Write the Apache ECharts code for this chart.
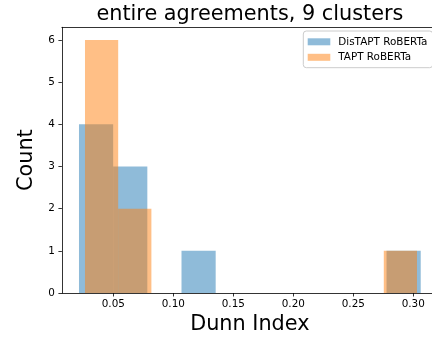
<!DOCTYPE html>
<html>
<head>
<meta charset="utf-8">
<script src="https://cdn.jsdelivr.net/npm/echarts@6/dist/echarts.min.js"></script>
<style>
  html, body { margin: 0; padding: 0; background: #fff; }
  #chart { width: 432px; height: 338px; }
</style>
</head>
<body>
<div id="chart"></div>
<script>
// Histogram of Dunn index values for two models (10 equal-width bins each).
const seriesNames = ['DisTAPT RoBERTa', 'TAPT RoBERTa'];
const distaptRange = [0.0214, 0.3062];
const distaptCounts = [4, 3, 0, 1, 0, 0, 0, 0, 0, 1];
const taptRange = [0.0264, 0.3031];
const taptCounts = [6, 2, 0, 0, 0, 0, 0, 0, 0, 1];
const xTicks = [0.05, 0.10, 0.15, 0.20, 0.25, 0.30];
const yTicks = [0, 1, 2, 3, 4, 5, 6];
const titleText = 'entire agreements, 9 clusters';
const xLabel = 'Dunn Index';
const yLabel = 'Count';

const FONT = 'DejaVu Sans';
const colors = ['rgba(31,119,180,0.5)', 'rgba(255,127,14,0.5)'];

// Equal-width bins between the min and max of each sample: [left, right, count]
function binsOf(range, counts) {
  const w = (range[1] - range[0]) / counts.length;
  return counts
    .map((c, i) => [range[0] + i * w, range[0] + (i + 1) * w, c])
    .filter(b => b[2] > 0);
}

// x limits: data span plus 5% margin on each side
const lo = Math.min(distaptRange[0], taptRange[0]);
const hi = Math.max(distaptRange[1], taptRange[1]);
const pad = 0.05 * (hi - lo);
const yMax = Math.max(...distaptCounts, ...taptCounts) * 1.05;

function renderBin(color) {
  return function (params, api) {
    const p0 = api.coord([api.value(0), api.value(2)]);
    const p1 = api.coord([api.value(1), 0]);
    return {
      type: 'rect',
      shape: { x: p0[0], y: p0[1], width: p1[0] - p0[0], height: p1[1] - p0[1] },
      style: { fill: color }
    };
  };
}

const spine = { show: true, lineStyle: { color: '#000', width: 0.8 } };

const chart = echarts.init(document.getElementById('chart'), null, { renderer: 'canvas' });
chart.setOption({
  animation: false,
  backgroundColor: '#fff',
  textStyle: { fontFamily: FONT },
  grid: {
    left: 61.9, top: 27.3, width: 375.9, height: 265.7,
    outerBoundsMode: 'none', containLabel: false, show: false
  },
  graphic: [{
    type: 'text', x: 249.9, y: 14.5,
    style: { text: titleText, font: '20.8px "DejaVu Sans"', fill: '#000', align: 'center', verticalAlign: 'middle' }
  }, {
    // legend frame, anchored to the upper-right corner of the axes
    type: 'rect', z: 1,
    shape: { x: 303.3, y: 31, width: 129.4, height: 36.7, r: 3 },
    style: { fill: 'rgba(255,255,255,0.8)', stroke: '#cccccc', lineWidth: 1 }
  }],
  legend: {
    orient: 'vertical', left: 303.3, top: 31, z: 5,
    icon: 'rect', itemWidth: 22.6, itemHeight: 7, itemGap: 3.5,
    padding: [4.8, 2, 4.4, 4.4],
    textStyle: { fontFamily: FONT, fontSize: 10.4, lineHeight: 12, color: '#000', padding: [0, 0, 0, 3] },
    data: seriesNames.map((n, i) => ({ name: n, itemStyle: { color: colors[i] } }))
  },
  xAxis: [{
    type: 'value', min: lo - pad, max: hi + pad, position: 'bottom',
    name: xLabel, nameLocation: 'middle', nameGap: 31.5,
    nameTextStyle: { fontFamily: FONT, fontSize: 20.8, color: '#000', verticalAlign: 'middle' },
    axisLine: spine,
    axisTick: { show: true, length: 3.5, lineStyle: { color: '#000', width: 0.8 }, customValues: xTicks },
    axisLabel: {
      customValues: xTicks, margin: 6.5, fontFamily: FONT, fontSize: 10.4, color: '#000',
      formatter: v => v.toFixed(2)
    },
    splitLine: { show: false }
  }, {
    // top spine of the frame
    type: 'value', min: lo - pad, max: hi + pad, position: 'top',
    axisLine: spine, axisTick: { show: false }, axisLabel: { show: false }, splitLine: { show: false }
  }],
  yAxis: {
    type: 'value', min: 0, max: yMax,
    name: yLabel, nameLocation: 'middle', nameGap: 30, nameRotate: 90,
    nameTextStyle: { fontFamily: FONT, fontSize: 20.8, color: '#000', verticalAlign: 'middle' },
    axisLine: spine,
    axisTick: { show: true, length: 3.5, lineStyle: { color: '#000', width: 0.8 }, customValues: yTicks },
    axisLabel: { customValues: yTicks, margin: 7, fontFamily: FONT, fontSize: 10.4, color: '#000' },
    splitLine: { show: false }
  },
  series: [
    {
      name: seriesNames[0], type: 'custom', color: colors[0],
      renderItem: renderBin(colors[0]),
      encode: { x: [0, 1], y: 2 },
      data: binsOf(distaptRange, distaptCounts)
    },
    {
      name: seriesNames[1], type: 'custom', color: colors[1],
      renderItem: renderBin(colors[1]),
      encode: { x: [0, 1], y: 2 },
      data: binsOf(taptRange, taptCounts)
    }
  ]
});
</script>
</body>
</html>
